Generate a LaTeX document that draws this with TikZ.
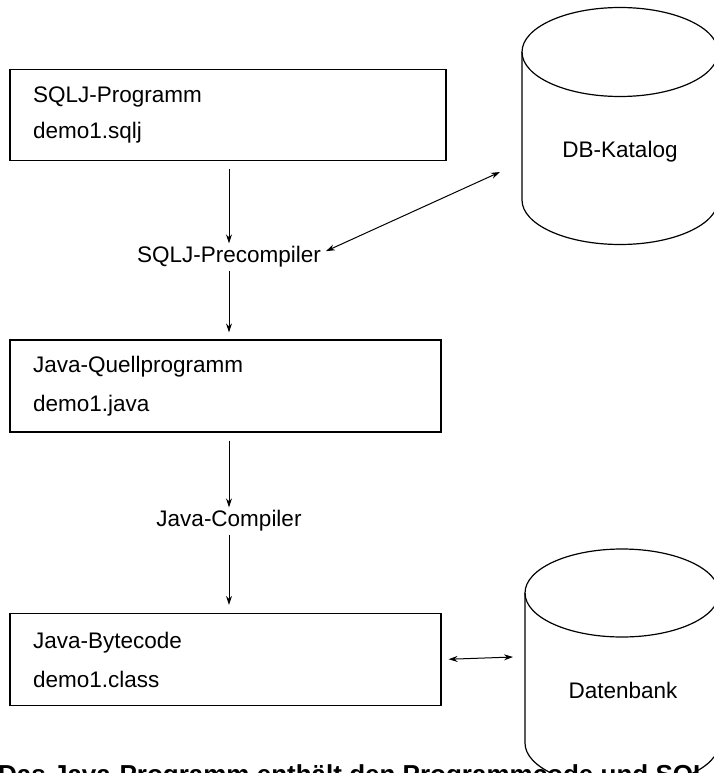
\documentclass[tikz,border=0pt]{standalone}
\usepackage{fontspec}
\setmainfont{Liberation Sans}
\usetikzlibrary{arrows.meta}

\tikzset{
  prog/.style={draw, line width=1.2pt, rectangle, minimum height=92pt, align=left, inner xsep=23pt, font=\fontsize{22.5}{39}\selectfont},
  werkzeug/.style={inner sep=3pt, font=\fontsize{22.5}{27}\selectfont},
  pfeil/.style={line width=1pt, -{Stealth[length=9pt,width=6pt]}},
  dpfeil/.style={line width=1pt, {Stealth[length=9pt,width=6pt]}-{Stealth[length=9pt,width=6pt]}},
  tonne/.style={line width=1.2pt},
}

\begin{document}
\begin{tikzpicture}[x=1pt,y=1pt,yscale=-1,xscale=1]
\useasboundingbox (0,0) rectangle (713,773);
%Shape: Rectangle
\node[prog, minimum width=436pt, text width=390pt, minimum height=91pt] (sqlj) at (228,115) {SQLJ-Programm\\[-3pt]demo1.sqlj};
%Shape: Rectangle
\node[prog, minimum width=431pt, text width=385pt] (quell) at (225.5,386) {Java-Quellprogramm\\demo1.java};
%Shape: Rectangle
\node[prog, minimum width=431pt, text width=385pt] (byte) at (225.5,659.5) {Java-Bytecode\\demo1.class};

%Shape: Can
\draw[tonne] (620,52) ellipse [x radius=98, y radius=44.5];
\draw[tonne] (522,52) -- (522,200) arc [start angle=180, end angle=0, x radius=98, y radius=44.5] -- (718,52);
%Shape: Can
\draw[tonne] (622,593) ellipse [x radius=97, y radius=44];
\draw[tonne] (525,593) -- (525,743) arc [start angle=180, end angle=0, x radius=97, y radius=44] -- (719,593);

% Text Node
\node[werkzeug] (precomp) at (229,257) {SQLJ-Precompiler};
% Text Node
\node[werkzeug] (compiler) at (229,521) {Java-Compiler};
% Text Node
\node[werkzeug] (katalog) at (620,152) {DB-Katalog};
% Text Node
\node[werkzeug] (datenbank) at (623,690) {Datenbank};
% Text Node
\node[anchor=north west, inner sep=0pt, font=\bfseries\fontsize{26}{30}\selectfont] (unterschrift) at (-2,764) {Das Java-Programm enthält den Programmcode und SQL-Anweisungen};

\coordinate (katin) at (500,172);
\coordinate (dbin) at (513,657);

%Straight Lines
\draw[pfeil, shorten <=8pt] (sqlj.south -| precomp) -- (precomp.north);
\draw[pfeil, shorten >=7pt] (precomp.south) -- (precomp.south |- quell.north);
\draw[pfeil, shorten <=8pt] (quell.south -| compiler) -- (compiler.north);
\draw[pfeil, shorten >=8pt] (compiler.south) -- (compiler.south |- byte.north);
\draw[dpfeil, shorten <=2pt] ([yshift=-5pt]precomp.east) -- (katin);
\draw[dpfeil, shorten <=7pt] (byte.east) -- (dbin);
\end{tikzpicture}
\end{document}
